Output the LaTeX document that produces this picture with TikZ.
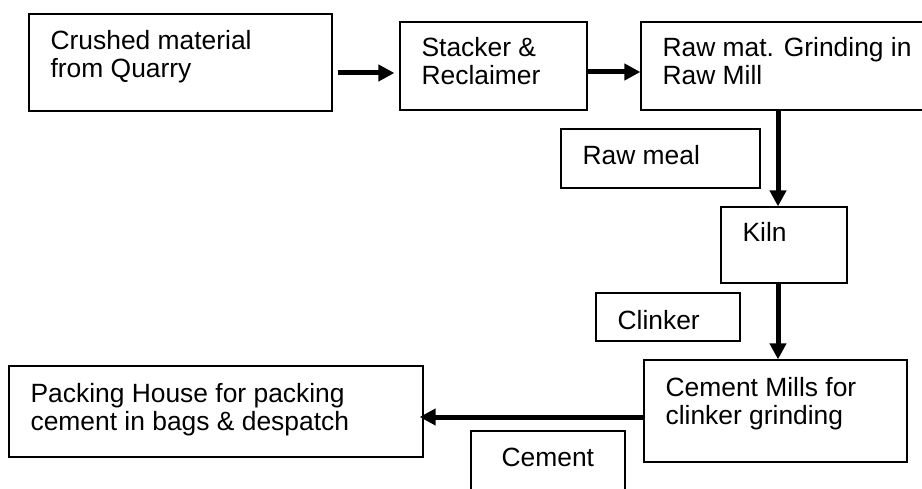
\documentclass[tikz,border=0pt]{standalone}
\usepackage{fontspec}
\setmainfont{Liberation Sans}
\usetikzlibrary{arrows.meta}
\begin{document}
\begin{tikzpicture}[x=1pt,y=-1pt,
  box/.style={draw=black, line width=1.2pt, inner sep=0pt},
  lbl/.style={anchor=north west, inner sep=0pt, align=left, xshift=22pt, yshift=-17pt,
              font=\fontsize{26.4pt}{28pt}\selectfont},
  arr/.style={line width=5pt, -{Triangle[length=16pt,width=16pt]}}]
\useasboundingbox (0,0) rectangle (922,489);
\node[box, minimum width=303pt, minimum height=97pt, label={[lbl]north west:{Crushed material\\from Quarry}}] (b1) at (180.5,62.5) {};
\node[box, minimum width=187pt, minimum height=88pt, label={[lbl, yshift=1pt]north west:{Stacker \&\\Reclaimer}}] (b2) at (493.5,66) {};
\node[box, minimum width=299pt, minimum height=88pt, label={[lbl, yshift=1pt]north west:{Raw mat. Grinding in\\Raw Mill}}] (b3) at (790.5,66) {};
\node[box, minimum width=199pt, minimum height=59pt, label={[lbl]north west:{Raw meal}}] (rm) at (660.5,158.5) {};
\node[box, minimum width=126pt, minimum height=76pt, label={[lbl, yshift=1pt]north west:{Kiln}}] (kiln) at (784,245) {};
\node[box, minimum width=144pt, minimum height=48pt, label={[lbl, yshift=-1pt]north west:{Clinker}}] (cl) at (668,317) {};
\node[box, minimum width=263pt, minimum height=102pt, label={[lbl, yshift=-1pt]north west:{Cement Mills for\\clinker grinding}}] (cm) at (775.5,411) {};
\node[box, minimum width=414pt, minimum height=91pt, label={[lbl, yshift=-1pt]north west:{Packing House for packing\\cement in bags \& despatch}}] (pk) at (216,411.5) {};
\node[box, minimum width=154pt, minimum height=89pt, label={[lbl, xshift=9pt]north west:{Cement}}] (ce) at (548,475.5) {};
\coordinate (ya) at (0,73);
\coordinate (yb) at (0,72);
\coordinate (xc) at (778,0);
\coordinate (yd) at (0,417);
\draw[arr, shorten <=5pt, shorten >=5pt] (b1.east |- ya) -- (b2.west |- ya);
\draw[arr] (b2.east |- yb) -- (b3.west |- yb);
\draw[arr] (xc |- b3.south) -- (xc |- kiln.north);
\draw[arr] (xc |- kiln.south) -- (xc |- cm.north);
\draw[arr, shorten >=-4pt] (cm.west |- yd) -- (pk.east |- yd);
\end{tikzpicture}
\end{document}
